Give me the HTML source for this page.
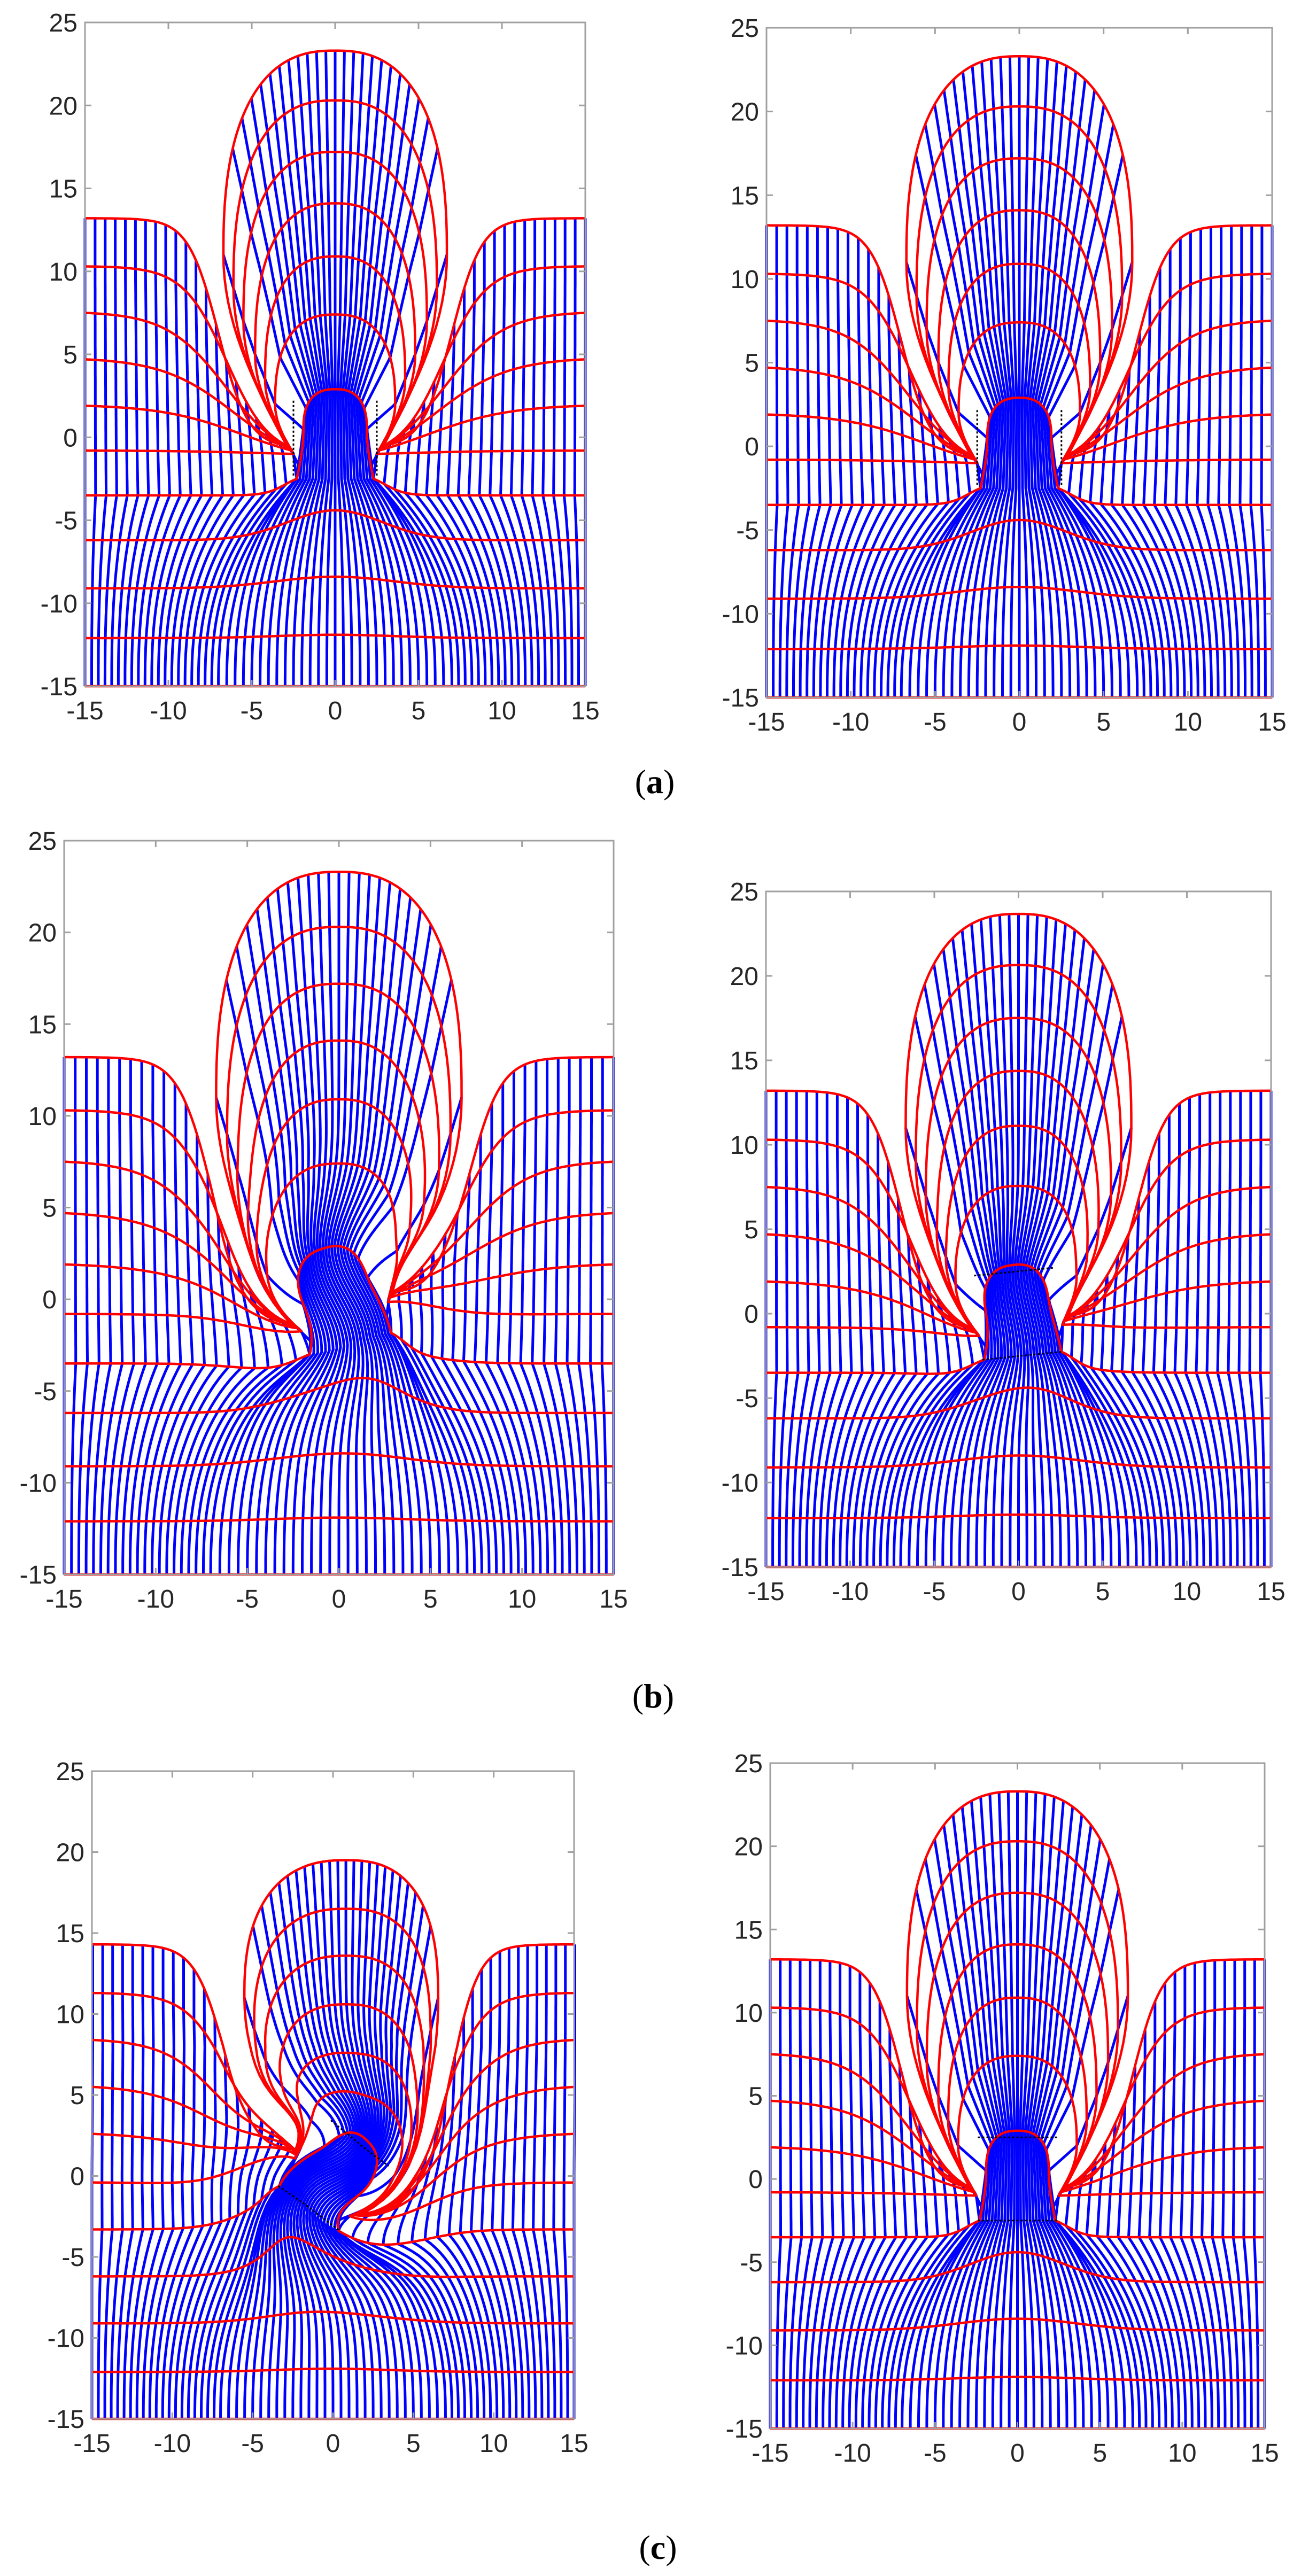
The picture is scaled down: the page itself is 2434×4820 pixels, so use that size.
<!DOCTYPE html>
<html><head><meta charset="utf-8"><style>html,body{margin:0;padding:0;background:#fff}svg{display:block}</style></head>
<body>
<svg id="s" xmlns="http://www.w3.org/2000/svg" width="2434" height="4820" viewBox="0 0 2434 4820">
<rect width="2434" height="4820" fill="#fff"/>
<g id="plots"></g>
<g font-family="'Liberation Serif', serif" font-size="64" fill="#000" text-anchor="middle">
<text x="1225" y="1484">(<tspan font-weight="bold">a</tspan>)</text>
<text x="1222" y="3195">(<tspan font-weight="bold">b</tspan>)</text>
<text x="1231" y="4788">(<tspan font-weight="bold">c</tspan>)</text>
</g>
</svg>
<script>
const NS='http://www.w3.org/2000/svg';
const root=document.getElementById('plots');
function el(tag,attrs,parent){const e=document.createElementNS(NS,tag);for(const k in attrs)e.setAttribute(k,attrs[k]);(parent||root).appendChild(e);return e;}
const lerp=(a,b,t)=>a+(b-a)*t;
const BASE_ARC=[
 [23.3,6.7,11,2.9,-0.5],
 [20.3,6.1,9,2.9,-0.5],
 [17.2,5.5,7,2.8,-0.6],
 [14.1,4.8,5,2.7,-0.7],
 [10.9,4.2,3.5,2.6,-0.8],
 [7.4,3.6,2,2.5,-1.0],
 [2.9,1.9,0.5,2.3,-2.5],
 [-2.5,2.3,-2.5,2.3,-2.5]];
const BASE_LV=[13.2,10.3,7.5,4.7,1.9,-0.8,-3.5];
const SIDE=[[-7,0.9],[-6.5,1.3],[-6.5,1.8],[-6,2.2],[-5.5,2.5],[-4,3],[-3,0.6]];
const LOW=[[-6.2,1.8,4],[-9.1,0.7,5],[-12.1,0.2,5],[-15,0,5]];
const T1=0.08;
const NS_COL=20;

function build(P){
  const ARC=BASE_ARC.map((a,k)=>{const r=a.slice();
    if(P.H&&k<7) r[0]=P.H[k];
    else if(P.Hs&&k<6) r[0]=r[2]+(a[0]-r[2])*P.Hs;
    if(P.Ws&&k<6) r[1]=a[1]*P.Ws;
    return r;});
  const LV=P.lv||BASE_LV;
  const rot=(P.rot||0)*Math.PI/180, R=P.R||4, sh=P.sh||0;
  const sx=(P.x1-P.x0)/30, sy=(P.yB-P.yT)/40;
  function warp(x,y){
    if(rot){const r2=x*x+y*y;const th=rot*Math.exp(-r2/(R*R));const c=Math.cos(th),s=Math.sin(th);
      const nx=x*c-y*s, ny=x*s+y*c; x=nx;y=ny;}
    if(sh){x+=sh*Math.min(1,Math.max(0,y/8))*Math.exp(-(x/9)*(x/9));}
    return [P.x0+(x+15)*sx, P.yB-(y+15)*sy];
  }
  function path(pts){let d='';pts.forEach((p,i)=>{const q=warp(p[0],p[1]);d+=(i?'L':'M')+q[0].toFixed(1)+' '+q[1].toFixed(1);});return d;}
  function arcPoint(p,t){const [H,W,yc,A,yb]=p;
    if(t<T1){const s=t/T1;return [-(A+(W-A)*Math.sin(Math.PI*s/2)), yb+(yc-yb)*s];}
    if(t>1-T1){const s=(1-t)/T1;return [(A+(W-A)*Math.sin(Math.PI*s/2)), yb+(yc-yb)*s];}
    const ps=Math.PI*(t-T1)/(1-2*T1);const c=Math.cos(ps),s=Math.sin(ps);
    return [-W*Math.sign(c)*Math.pow(Math.abs(c),0.8), yc+(H-yc)*Math.pow(Math.max(0,s),0.8)];}
  function arcParamAt(q){let k=Math.floor(q);if(k>6)k=6;if(k<0)k=0;const f=q-k;return ARC[k].map((v,i)=>lerp(v,ARC[k+1][i],f));}
  function lg(z,xc,w){return 1/(1+Math.exp(-(z-xc)/w));}
  function sidePoint(k,s){const L=LV[k],A=ARC[k][3],yb=ARC[k][4];const [xc,w]=SIDE[k];
    const x=-15+s*(15-A);const g=(lg(x,xc,w)-lg(-15,xc,w))/(lg(-A,xc,w)-lg(-15,xc,w));
    return [x, L+(yb-L)*g];}
  function sidePointQ(q,s){let k=Math.floor(q);if(k>5)k=5;if(k<0)k=0;const f=q-k;
    const a=sidePoint(k,s),b=sidePoint(k+1,s);return [lerp(a[0],b[0],f),lerp(a[1],b[1],f)];}
  const g=el('g',{});
  const blue=el('g',{stroke:'#0000ff','stroke-width':5,fill:'none','stroke-linejoin':'round'},g);
  const red=el('g',{stroke:'#ff0000','stroke-width':4.5,fill:'none','stroke-linejoin':'round'},g);
  function lower(u,Q){const pts=[];for(let i=0;i<=30;i++){const t=i/30;pts.push([u+(Q[0]-u)*Math.pow(t,2.5), -15+t*(Q[1]+15)]);}return pts;}
  for(let i=0;i<=NS_COL;i++){const s=i/NS_COL,u=-15+8*s;
    const pts=lower(u,sidePoint(6,s));
    for(let m=1;m<=60;m++){const q=6-6*m/60;pts.push(sidePointQ(q,s));}
    el('path',{d:path(pts)},blue);
    el('path',{d:path(pts.map(p=>[-p[0],p[1]]))},blue);
  }
  for(let j=0;j<=26;j++){let tau;
    if(j===0)tau=0.02;else if(j===26)tau=0.98;else{const a=-1+(j-1)/12;const c=-Math.sign(a)*Math.pow(Math.abs(a),1.25);tau=T1+Math.acos(Math.max(-1,Math.min(1,c)))/Math.PI*(1-2*T1);}
    const u=-6.5+0.5*j;
    const pts=lower(u,arcPoint(ARC[7],tau));
    for(let m=1;m<=90;m++){const q=7-7*m/90;pts.push(arcPoint(arcParamAt(q),tau));}
    el('path',{d:path(pts)},blue);
  }
  for(let k=0;k<7;k++){const pts=[];
    for(let i=0;i<=80;i++)pts.push(sidePoint(k,i/80));
    for(let i=0;i<=200;i++)pts.push(arcPoint(ARC[k],i/200));
    for(let i=80;i>=0;i--){const p=sidePoint(k,i/80);pts.push([-p[0],p[1]]);}
    el('path',{d:path(pts)},red);}
  for(const [L,b,wd] of LOW){const pts=[];for(let i=0;i<=150;i++){const x=-15+30*i/150;pts.push([x,L+b*Math.exp(-(x/wd)*(x/wd))]);}el('path',{d:path(pts)},red);}
  const bk=el('g',{stroke:'#000','stroke-width':3,'stroke-dasharray':'4 4',fill:'none'},g);
  if(P.dash==='v'){[-2.5,2.5].forEach(x=>el('path',{d:path([[x,-2.3],[x,0],[x,2.3]])},bk));}
  else if(P.dash==='h'){[-2.5,2.5].forEach(y=>el('path',{d:path([[-2.4,y],[0,y],[2.4,y]])},bk));}
  const ax=el('g',{stroke:'#a0a0a0','stroke-width':3,fill:'none'},g);
  el('rect',{x:P.x0,y:P.yT,width:P.x1-P.x0,height:P.yB-P.yT},ax);
  let td='';
  for(let v=-15;v<=15;v+=5){const x=P.x0+(v+15)*sx;td+=`M${x} ${P.yB}v-12M${x} ${P.yT}v12`;}
  for(let v=-15;v<=25;v+=5){const y=P.yB-(v+15)*sy;td+=`M${P.x0} ${y}h12M${P.x1} ${y}h-12`;}
  el('path',{d:td},ax);
  const tx=el('g',{'font-family':"'Liberation Sans', Arial, sans-serif",'font-size':48,fill:'#262626'},g);
  for(let v=-15;v<=15;v+=5){const t=el('text',{x:P.x0+(v+15)*sx,y:P.yB+62,'text-anchor':'middle'},tx);t.textContent=String(v);}
  for(let v=-15;v<=25;v+=5){const t=el('text',{x:P.x0-14,y:P.yB-(v+15)*sy+17,'text-anchor':'end'},tx);t.textContent=String(v);}
}
build({x0:159,x1:1095,yT:42,yB:1284,dash:'v'});
build({x0:1434,x1:2380,yT:52,yB:1305,dash:'v'});
build({x0:120,x1:1148,yT:1573,yB:2946,rot:28,R:4.2});
build({x0:1433,x1:2378,yT:1668,yB:2932,rot:12,R:4,Hs:1.03,dash:'h'});
build({x0:172,x1:1074,yT:3314,yB:4526,rot:-65,R:4.5,H:[19.5,16.5,13.6,10.6,7.6,5.2,2.9],Ws:0.9,lv:[14.3,11.3,8.4,5.5,2.6,-0.4,-3.3],sh:0.8,dash:'h'});
build({x0:1441,x1:2366,yT:3299,yB:4544,dash:'h'});
</script>
</body></html>
